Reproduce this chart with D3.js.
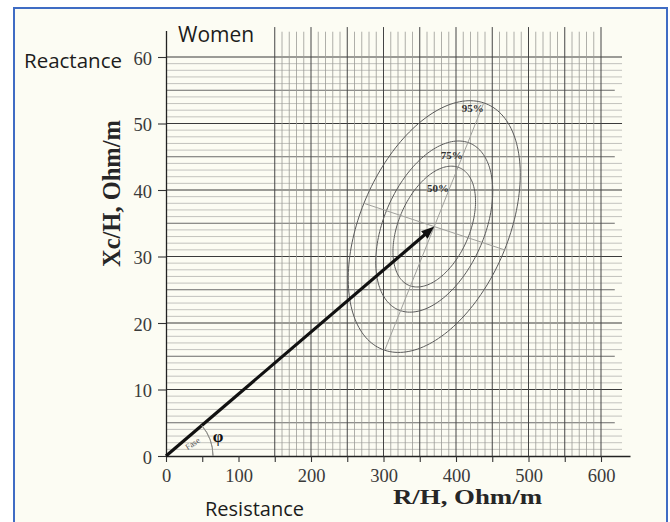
<!DOCTYPE html>
<html>
<head>
<meta charset="utf-8">
<script src="https://cdn.jsdelivr.net/npm/d3@7"></script>
<style>
  html, body { margin: 0; padding: 0; background: #fff; }
  svg { display: block; }
  .tick-label { font-family: "Liberation Serif", "Times New Roman", serif; fill: #3a3a3a; }
  .sans { font-family: "Open Sans", "Noto Sans", sans-serif; fill: #1c1c1c; }
  .title { font-family: "Liberation Serif", "Times New Roman", serif; font-weight: bold; fill: #262626; }
</style>
</head>
<body>
<svg class="chart" width="670" height="522"></svg>
<script>
// axis ticks
const X_TICKS = [0, 100, 200, 300, 400, 500, 600]
const Y_TICKS = [0, 10, 20, 30, 40, 50, 60]

// mean vector (R/H, Xc/H) of the reference population
const MEAN = [370, 34.5]
// semi-axes of the 95% tolerance ellipse, in Ohm/m
const AXIS_MAJOR = [68.3, 18.6]
const AXIS_MINOR = [97, -3.5]

// tolerance ellipses
const LEVELS = ['50%', '75%', '95%']
const LEVEL_SCALE = [0.48, 0.68, 1]
const LABEL_R = [375, 394, 423]
const LABEL_X = [40.3, 45.3, 52.4]

class RXcGraph {
  constructor() {
    this.svg = d3.select('svg.chart')
    this.x = d3.scaleLinear().domain([0, 640]).range([166, 630])
    this.y = d3.scaleLinear().domain([0, 64]).range([456, 30.4])
    this.render()
  }

  render() {
    this.frame()
    this.grid()
    this.axes()
    this.ellipses()
    this.vector()
    this.labels()
  }

  frame() {
    this.svg.append('rect')
      .attr('x', 14).attr('y', 8)
      .attr('width', 653).attr('height', 530)
      .style('fill', '#fcfcf3')
      .style('stroke', '#3f6cc4')
      .style('stroke-width', 2)
  }

  grid() {
    const { x, y } = this
    // horizontal lines every 1 Ohm/m
    this.svg.append('g').selectAll('line')
      .data(d3.range(1, 61))
      .enter()
      .append('line')
      .attr('x1', x(0))
      .attr('x2', d => d % 10 !== 0 && d % 5 === 0 ? x(619) : x(629))
      .attr('y1', d => y(d)).attr('y2', d => y(d))
      .style('stroke', d => d % 10 === 0 ? '#3a3a3a' : d % 5 === 0 ? '#6a6a6a' : '#b4b4b0')
      .style('stroke-width', d => d % 10 === 0 ? 1.1 : d % 5 === 0 ? 1 : 0.8)

    // vertical lines from 150 on
    this.svg.append('g').selectAll('line')
      .data(d3.range(150, 601, 10))
      .enter()
      .append('line')
      .attr('x1', d => x(d)).attr('x2', d => x(d))
      .attr('y1', y(0))
      .attr('y2', d => d % 50 === 0 ? y(64.5) : y(63.8))
      .style('stroke', d => d % 50 === 0 ? '#444' : '#9a9a96')
      .style('stroke-width', d => d % 50 === 0 ? 1 : 0.8)
  }

  axes() {
    const { x, y } = this
    const xAxis = this.svg.append('g')
      .attr('transform', `translate(0,${y(0)})`)
      .call(d3.axisBottom(x)
        .tickValues(d3.range(0, 601, 50))
        .tickFormat(d => X_TICKS.includes(d) ? d : '')
        .tickSize(6).tickSizeOuter(0).tickPadding(7))
    const yAxis = this.svg.append('g')
      .attr('transform', `translate(${x(0)},0)`)
      .call(d3.axisLeft(y)
        .tickValues(Y_TICKS)
        .tickSize(8).tickSizeOuter(0).tickPadding(6))

    ;[xAxis, yAxis].forEach(g => {
      g.select('.domain').style('stroke', '#222').style('stroke-width', 1.3)
      g.selectAll('.tick line').style('stroke', '#333').style('stroke-width', 1.1)
      g.selectAll('.tick text')
        .attr('class', 'tick-label')
        .style('font-size', '18.5px')
    })
    yAxis.selectAll('.tick text').attr('dy', '0.4em')
  }

  ellipsePoint(t, s) {
    const c = Math.cos(t), n = Math.sin(t)
    return [
      MEAN[0] + s * (c * AXIS_MAJOR[0] + n * AXIS_MINOR[0]),
      MEAN[1] + s * (c * AXIS_MAJOR[1] + n * AXIS_MINOR[1]),
    ]
  }

  ellipses() {
    const { x, y } = this
    const line = d3.line().x(d => x(d[0])).y(d => y(d[1])).curve(d3.curveLinearClosed)
    const steps = d3.range(0, 2 * Math.PI, Math.PI / 90)

    this.svg.append('g').selectAll('path')
      .data(LEVEL_SCALE)
      .enter()
      .append('path')
      .attr('d', s => line(steps.map(t => this.ellipsePoint(t, s))))
      .style('fill', 'none')
      .style('stroke', '#5a5a5a')
      .style('stroke-width', 1)

    // principal axes of the 95% ellipse
    this.svg.append('g').selectAll('line')
      .data([AXIS_MAJOR, AXIS_MINOR])
      .enter()
      .append('line')
      .attr('x1', d => x(MEAN[0] - d[0])).attr('y1', d => y(MEAN[1] - d[1]))
      .attr('x2', d => x(MEAN[0] + d[0])).attr('y2', d => y(MEAN[1] + d[1]))
      .style('stroke', '#a0a09c')
      .style('stroke-width', 1)

    this.svg.append('g').selectAll('text')
      .data(LEVELS)
      .enter()
      .append('text')
      .attr('x', (d, i) => x(LABEL_R[i]))
      .attr('y', (d, i) => y(LABEL_X[i]) + 4)
      .attr('text-anchor', 'middle')
      .attr('class', 'title')
      .style('font-size', '11px')
      .style('fill', '#333')
      .text(d => d)
  }

  vector() {
    const { x, y } = this
    this.svg.append('defs').append('marker')
      .attr('id', 'head')
      .attr('markerUnits', 'userSpaceOnUse')
      .attr('markerWidth', 14).attr('markerHeight', 10)
      .attr('refX', 13).attr('refY', 5)
      .attr('orient', 'auto')
      .append('path')
      .attr('d', 'M0,0 L13,5 L0,10 Z')
      .style('fill', '#111')

    const x0 = x(0), y0 = y(0)
    const x1 = x(MEAN[0]), y1 = y(MEAN[1])
    const len = Math.hypot(x1 - x0, y1 - y0)
    const ang = Math.atan2(y0 - y1, x1 - x0)
    // stop the shaft short of the tip so the head stays sharp
    const k = (len - 8) / len

    this.svg.append('line')
      .attr('x1', x0).attr('y1', y0)
      .attr('x2', x0 + (x1 - x0) * k).attr('y2', y0 + (y1 - y0) * k)
      .style('stroke', '#111')
      .style('stroke-width', 3.2)
    this.svg.append('line')
      .attr('x1', x0 + (x1 - x0) * k).attr('y1', y0 + (y1 - y0) * k)
      .attr('x2', x1).attr('y2', y1)
      .style('stroke', 'none')
      .attr('marker-end', 'url(#head)')

    // phase angle arc
    const arc = d3.arc()
      .innerRadius(47).outerRadius(47)
      .startAngle(Math.PI / 2 - ang).endAngle(Math.PI / 2)
    this.svg.append('path')
      .attr('transform', `translate(${x0},${y0})`)
      .attr('d', arc())
      .style('fill', 'none')
      .style('stroke', '#8a8a86')
      .style('stroke-width', 0.9)

    this.svg.append('text')
      .attr('transform', `translate(${x0 + 28},${y0 - 10}) rotate(-32)`)
      .attr('text-anchor', 'middle')
      .style('font-family', '"Liberation Serif", serif')
      .style('font-size', '8.5px')
      .style('fill', '#555')
      .text('Fase')

    this.svg.append('text')
      .attr('x', x0 + 52).attr('y', y0 - 14)
      .attr('text-anchor', 'middle')
      .attr('class', 'title')
      .style('font-size', '17px')
      .style('fill', '#111')
      .text('φ')
  }

  labels() {
    this.svg.append('text')
      .attr('class', 'sans')
      .attr('x', 178).attr('y', 42)
      .style('font-size', '21px')
      .text('Women')

    this.svg.append('text')
      .attr('class', 'sans')
      .attr('x', 24).attr('y', 68)
      .style('font-size', '20.5px')
      .text('Reactance')

    this.svg.append('text')
      .attr('class', 'sans')
      .attr('x', 205).attr('y', 516)
      .style('font-size', '20px')
      .text('Resistance')

    this.svg.append('text')
      .attr('class', 'title')
      .attr('transform', 'translate(120,193.5) rotate(-90)')
      .attr('text-anchor', 'middle')
      .attr('textLength', 147)
      .attr('lengthAdjust', 'spacingAndGlyphs')
      .style('font-size', '25px')
      .text('Xc/H,  Ohm/m')

    this.svg.append('text')
      .attr('class', 'title')
      .attr('x', 467.5).attr('y', 504)
      .attr('text-anchor', 'middle')
      .attr('textLength', 149)
      .attr('lengthAdjust', 'spacingAndGlyphs')
      .style('font-size', '21px')
      .text('R/H, Ohm/m')
  }
}

new RXcGraph()
</script>
</body>
</html>
